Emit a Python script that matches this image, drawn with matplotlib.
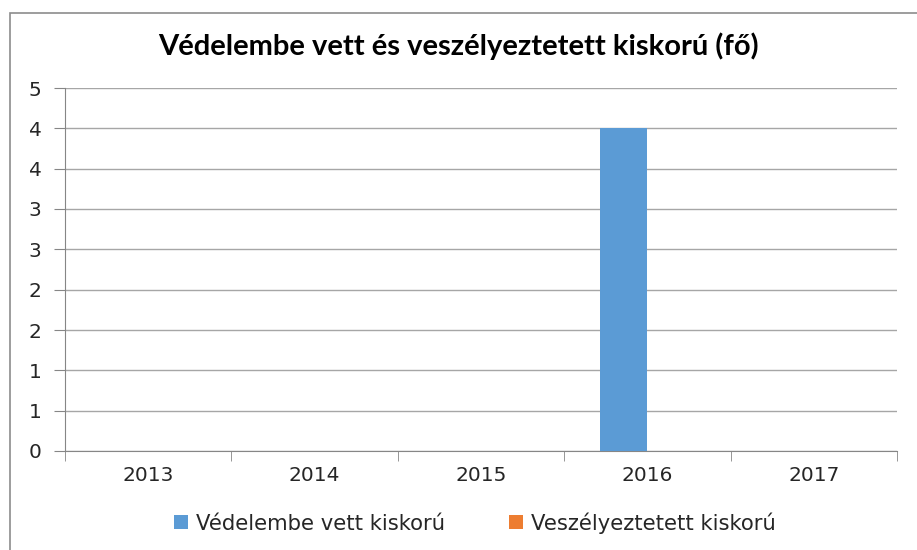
import matplotlib.pyplot as plt
import numpy as np
from matplotlib.patches import Rectangle

years = ["2013", "2014", "2015", "2016", "2017"]
vedelembe = [0, 0, 0, 4, 0]
veszelyeztetett = [0, 0, 0, 0, 0]
yticks = [0, 0.5, 1, 1.5, 2, 2.5, 3, 3.5, 4, 4.5]

fig = plt.figure(figsize=(9.17, 5.5), dpi=100)
ax = fig.add_axes([65 / 917, 1 - 451 / 550, (897 - 65) / 917, (451 - 88) / 550])

# figure border like the Excel chart area
fig.patches.append(Rectangle((10 / 917, -0.02), 1.1, 1 - 13 / 550 + 0.02, transform=fig.transFigure,
                             fill=False, edgecolor="#8c8c8c", linewidth=1.2))

x = np.arange(len(years))
w = 0.283
ax.bar(x - w / 2, vedelembe, w, color="#5b9bd5", label="Védelembe vett kiskorú", zorder=3)
ax.bar(x + w / 2, veszelyeztetett, w, color="#ed7d31", label="Veszélyeztetett kiskorú", zorder=3)

ax.set_xlim(-0.5, len(years) - 0.5)
ax.set_ylim(0, 4.5)
ax.set_yticks(yticks)
ax.set_yticklabels([str(int(np.floor(v + 0.5))) for v in yticks])
ax.set_xticks(x)
ax.set_xticklabels(years)
ax.set_xticks(np.arange(-0.5, len(years)), minor=True)
ax.tick_params(axis="x", which="major", length=0, pad=11, labelsize=14.5, labelcolor="#262626")
ax.tick_params(axis="x", which="minor", length=7, color="#868686")
ax.tick_params(axis="y", length=8, color="#868686", pad=9, labelsize=14.5, labelcolor="#262626")

ax.grid(axis="y", color="#a6a6a6", linewidth=1, zorder=0)
for s in ["top", "right"]:
    ax.spines[s].set_visible(False)
ax.spines["left"].set_color("#868686")
ax.spines["bottom"].set_color("#868686")

fig.text(0.5, 1 - 46 / 550, "Védelembe vett és veszélyeztetett kiskorú (fő)", ha="center", va="center",
         fontsize=21, fontweight="bold", family="Lato", color="#000000")

leg = fig.legend(loc="center", bbox_to_anchor=(475 / 917, 1 - 523 / 550), ncol=2, frameon=False,
                 handlelength=0.65, handleheight=0.65, handletextpad=0.4, columnspacing=3.0,
                 prop={"size": 15.2})
for t in leg.get_texts():
    t.set_color("#262626")

fig.savefig("out.png", dpi=100)
